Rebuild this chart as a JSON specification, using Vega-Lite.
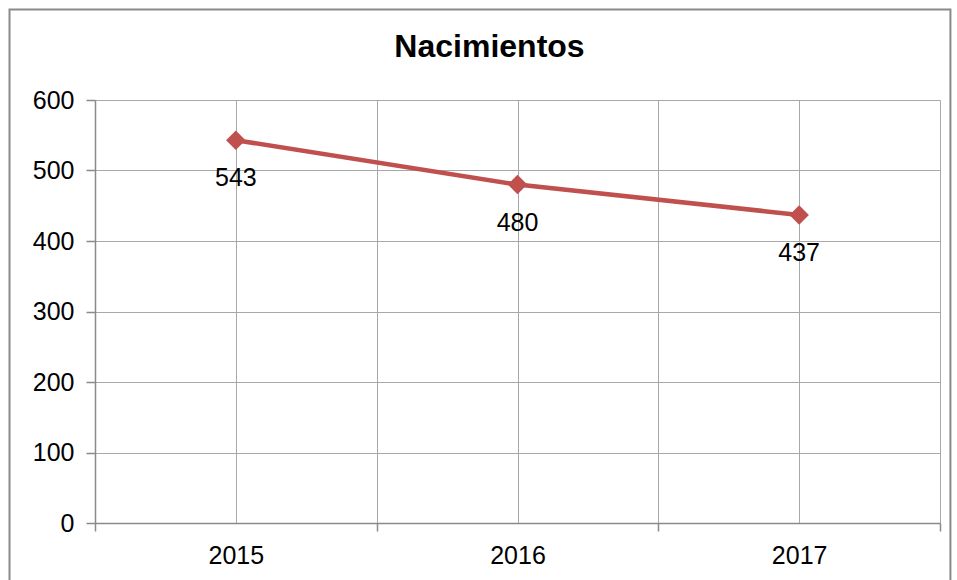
{
  "$schema": "https://vega.github.io/schema/vega-lite/v6.json",
  "autosize": "none",
  "width": 845,
  "height": 423,
  "padding": {"left": 95, "top": 100, "right": 17, "bottom": 57},
  "background": "white",
  "config": {
    "font": "Liberation Sans",
    "view": {"stroke": null}
  },
  "title": {
    "text": "Nacimientos",
    "font": "Liberation Sans",
    "fontSize": 32,
    "fontWeight": "bold",
    "color": "#000000",
    "anchor": "middle",
    "frame": "group",
    "dx": -28,
    "baseline": "alphabetic",
    "offset": -81
  },
  "data": {
    "values": [
      {"year": 2015, "nacimientos": 543},
      {"year": 2016, "nacimientos": 480},
      {"year": 2017, "nacimientos": 437}
    ]
  },
  "resolve": {"axis": {"x": "independent"}},
  "layer": [
    {
      "data": {"values": [{"x1": 2014.1965, "x2": 2017.537, "y1": 728.4, "y2": -200}]},
      "mark": {"type": "rect", "fill": null, "stroke": "#8a8a8a", "strokeWidth": 2, "clip": false},
      "encoding": {
        "x": {
          "field": "x1",
          "type": "quantitative",
          "title": null,
          "scale": {"domain": [2014.5, 2017.5], "nice": false, "zero": false},
          "axis": {
            "orient": "bottom",
            "values": [2014.5, 2015.5, 2016.5, 2017.5],
            "labels": false,
            "grid": true,
            "gridColor": "#a8a8a8",
            "gridWidth": 1,
            "domain": false,
            "ticks": true,
            "tickSize": 8,
            "tickColor": "#8a8a8a",
            "tickWidth": 1.5
          }
        },
        "x2": {"field": "x2"},
        "y": {"field": "y1", "type": "quantitative", "title": null},
        "y2": {"field": "y2"}
      }
    },
    {
      "mark": {"type": "line", "color": "#c0504d", "strokeWidth": 4.5},
      "encoding": {
        "x": {
          "field": "year",
          "type": "quantitative",
          "title": null,
          "scale": {"domain": [2014.5, 2017.5], "nice": false, "zero": false},
          "axis": {
            "orient": "bottom",
            "values": [2015, 2016, 2017],
            "format": "d",
            "labelFontSize": 25,
            "labelColor": "#000000",
            "labelFont": "Liberation Sans",
            "labelPadding": 20,
            "labelFlush": false,
            "labelOverlap": false,
            "grid": true,
            "gridColor": "#a8a8a8",
            "gridWidth": 1,
            "domain": true,
            "domainColor": "#8a8a8a",
            "domainWidth": 1.5,
            "ticks": false
          }
        },
        "y": {
          "field": "nacimientos",
          "type": "quantitative",
          "title": null,
          "scale": {"domain": [0, 600], "nice": false},
          "axis": {
            "values": [0, 100, 200, 300, 400, 500, 600],
            "labelFontSize": 25,
            "labelColor": "#000000",
            "labelFont": "Liberation Sans",
            "labelPadding": 12,
            "grid": true,
            "gridColor": "#a8a8a8",
            "gridWidth": 1,
            "domain": true,
            "domainColor": "#8a8a8a",
            "domainWidth": 1.5,
            "ticks": true,
            "tickSize": 9,
            "tickColor": "#8a8a8a",
            "tickWidth": 1.5
          }
        }
      }
    },
    {
      "mark": {"type": "point", "shape": "diamond", "filled": true, "color": "#c0504d", "size": 380, "opacity": 1},
      "encoding": {
        "x": {"field": "year", "type": "quantitative", "axis": null},
        "y": {"field": "nacimientos", "type": "quantitative"}
      }
    },
    {
      "mark": {"type": "text", "fontSize": 25, "font": "Liberation Sans", "color": "#000000", "baseline": "alphabetic", "align": "center", "dy": 46},
      "encoding": {
        "x": {"field": "year", "type": "quantitative", "axis": null},
        "y": {"field": "nacimientos", "type": "quantitative"},
        "text": {"field": "nacimientos", "type": "quantitative"}
      }
    }
  ]
}
